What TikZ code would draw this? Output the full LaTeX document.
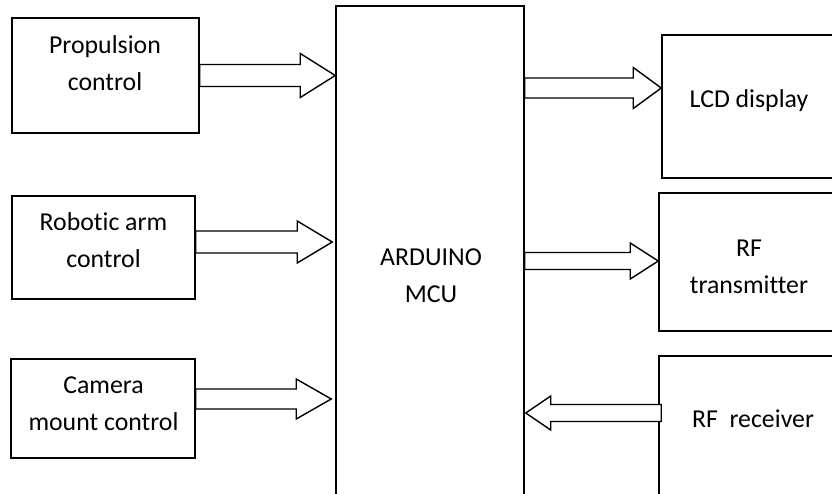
\documentclass[tikz,border=0pt]{standalone}
\usepackage{fontspec}
\setmainfont{Carlito}[Ligatures=NoCommon]
\usetikzlibrary{calc}
\tikzset{
  blk/.style={draw=black, line width=1.5pt, fill=white, rectangle, inner sep=0pt},
  lbl/.style={align=center, inner sep=0pt, font=\fontsize{25.8}{37}\selectfont, anchor=base},
  blockarrow/.style={draw=black, line width=1.4pt, fill=white, line join=miter},
}
% #1 start, #2 tip, #3 shaft half width, #4 head half width, #5 head length (signed, along +x)
\newcommand\blockarr[5]{%
  \draw[blockarrow] ($(#1)+(0,{-(#3)})$) -- ($(#2)+({-(#5)},{-(#3)})$) -- ($(#2)+({-(#5)},{-(#4)})$)
    -- (#2) -- ($(#2)+({-(#5)},{#4})$) -- ($(#2)+({-(#5)},{#3})$) -- ($(#1)+(0,{#3})$) -- cycle;}
\begin{document}
\begin{tikzpicture}[x=1pt,y=-1pt]
\useasboundingbox (0,0) rectangle (832,493);
\clip (0,0) rectangle (832,493);
\fill[white] (0,0) rectangle (832,493);
% boxes
\node[blk, minimum width=187pt, minimum height=115pt] (prop) at (105.5,75.5) {};
\node[blk, minimum width=183pt, minimum height=103pt] (rob) at (103.5,247.5) {};
\node[blk, minimum width=184pt, minimum height=99pt] (cam) at (103,408.5) {};
\node[blk, minimum width=188pt, minimum height=514pt] (mcu) at (430,263) {};
\node[blk, minimum width=188pt, minimum height=143pt] (lcd) at (756,106.5) {};
\node[blk, minimum width=191pt, minimum height=138pt] (tx) at (754.5,262) {};
\node[blk, minimum width=191pt, minimum height=164pt] (rx) at (754.5,438) {};
% labels (base anchor = baseline of the last line)
\node[lbl] (tprop) at (105,90) {Propulsion\\control};
\node[lbl] (trob) at (103.5,267) {Robotic arm\\control};
\node[lbl] (tcam) at (103.5,430) {Camera\\mount control};
\node[lbl] (tmcu) at (431,302) {ARDUINO\\MCU};
\node[lbl] (tlcd) at (749,107) {LCD display};
\node[lbl] (ttx) at (749,293) {RF\\transmitter};
\node[lbl] (trx) at (753,427) {RF\ \ receiver};
% arrow end points
\coordinate (a1s) at (prop.east);
\coordinate (a1e) at (a1s -| mcu.west);
\coordinate (a2s) at ($(rob.east)+(0,-5.5)$);
\coordinate (a2e) at ($(a2s -| mcu.west)+(-3,0)$);
\coordinate (a3s) at ($(cam.east)+(0,-9.5)$);
\coordinate (a3e) at ($(a3s -| mcu.west)+(-4,0)$);
\coordinate (a4e) at ($(lcd.west)+(0,-18.5)$);
\coordinate (a4s) at (a4e -| mcu.east);
\coordinate (a5e) at ($(tx.west)+(0,-1)$);
\coordinate (a5s) at (a5e -| mcu.east);
\coordinate (a6s) at ($(rx.west)+(3,-25)$);
\coordinate (a6e) at ($(a6s -| mcu.east)+(1,0)$);
\blockarr{a1s}{a1e}{11}{22}{35}
\blockarr{a2s}{a2e}{11}{21}{35}
\blockarr{a3s}{a3e}{10}{20}{35}
\blockarr{a4s}{a4e}{10}{20.5}{28}
\blockarr{a5s}{a5e}{8.5}{18}{28}
\blockarr{a6s}{a6e}{8.5}{17}{-25}
\end{tikzpicture}
\end{document}
